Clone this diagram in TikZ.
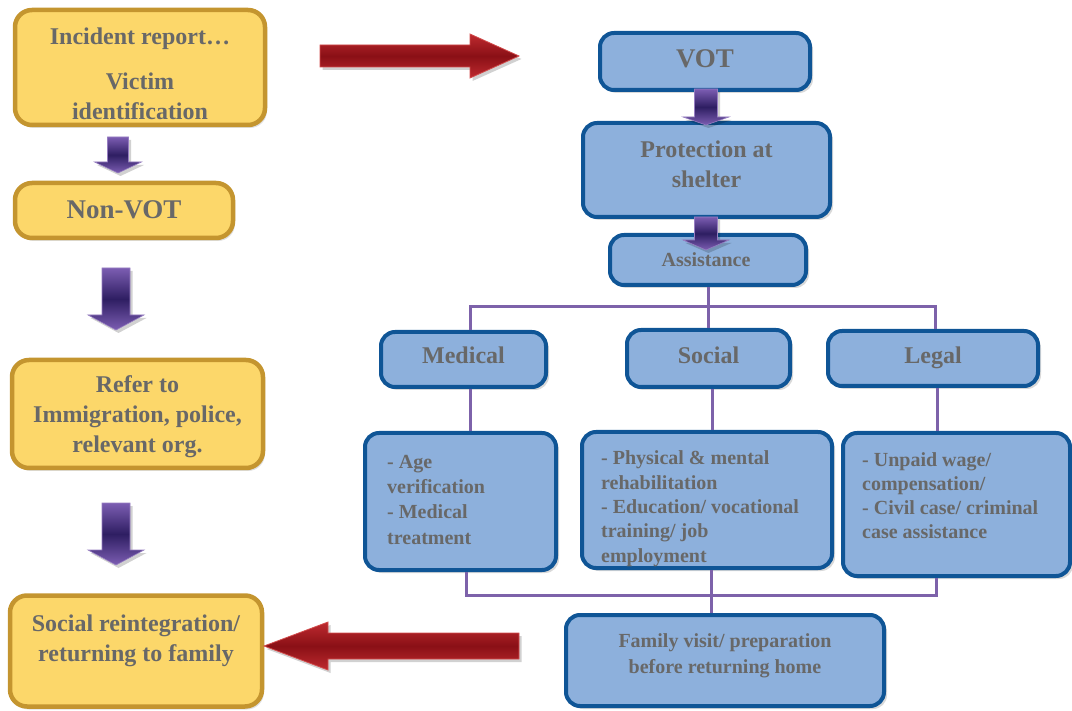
\documentclass[tikz,border=0pt]{standalone}
\usepackage{fontspec}
\setmainfont{Liberation Serif}
\usetikzlibrary{shadows,calc}
\definecolor{yfill}{HTML}{FCD76A}
\definecolor{ydraw}{HTML}{C4952F}
\definecolor{bfill}{HTML}{8DB0DC}
\definecolor{bdraw}{HTML}{0F5596}
\definecolor{tgray}{HTML}{686868}
\definecolor{pline}{HTML}{7D62AA}
\definecolor{plight}{HTML}{7C5DB2}
\definecolor{pdark}{HTML}{2E1E62}
\definecolor{rlight}{HTML}{BE2A2F}
\definecolor{rdark}{HTML}{8A1016}
\definecolor{redge}{HTML}{D24C4C}
\newcommand\fsz[2]{\fontsize{#1}{#2}\selectfont\bfseries}
% down arrow: cx, ytop, ybase, ytip, shaft half width, head half width
\newcommand\dnarrow[6]{%
  \path[parrow] ({#1-#5},#2) -- ({#1+#5},#2) -- ({#1+#5},#3) -- ({#1+#6},#3)
    -- (#1,#4) -- ({#1-#6},#3) -- ({#1-#5},#3) -- cycle;}
\begin{document}
\begin{tikzpicture}[x=1pt,y=-1pt,
  ybox/.style={draw=ydraw, fill=yfill, line width=4.5pt, rounded corners=17pt,
    drop shadow={opacity=0.25, shadow xshift=2pt, shadow yshift=-3pt}},
  bbox/.style={draw=bdraw, fill=bfill, line width=4pt, rounded corners=14pt,
    drop shadow={opacity=0.3, shadow xshift=3pt, shadow yshift=-3pt}},
  txt/.style={text=tgray, inner sep=0pt, align=center, anchor=base},
  txtl/.style={text=tgray, inner sep=0pt, align=left, anchor=base west},
  conn/.style={draw=pline, line width=3pt},
  ashadow/.style={preaction={fill=black, fill opacity=0.18, draw=none,
    transform canvas={shift={(2.5pt,-3pt)}}}},
  parrow/.style={ashadow, draw=plight!80!white, line width=0.6pt, shade, shading=axis,
    top color=plight, bottom color=plight, middle color=pdark},
  rarrow/.style={ashadow, draw=redge, line width=0.8pt, shade, shading=axis,
    top color=rlight, bottom color=rlight, middle color=rdark}
]
\useasboundingbox (0,0) rectangle (1072,711);

% ---------- yellow column ----------
\node[ybox, minimum width=250, minimum height=115] (inc) at (140,67.5) {};
\node[ybox, minimum width=218, minimum height=55] (nonvot) at (124,210.5) {};
\node[ybox, minimum width=251, minimum height=108] (refer) at (137.5,414) {};
\node[ybox, minimum width=252, minimum height=111] (soci) at (136,651) {};

% (multi-line nodes: the base anchor is the baseline of the last line)
\node[txt, font=\fsz{24}{29}] (inct1) at (140,45) {Incident report…};
\node[txt, font=\fsz{24}{30}] (inct2) at (140,120) {Victim\\identification};
\node[txt, font=\fsz{27}{30}] (nonvott) at (124,219) {Non-VOT};
\node[txt, font=\fsz{24}{30}] (refert) at (137.5,453) {Refer to\\Immigration, police,\\relevant org.};
\node[txt, font=\fsz{24}{30}] (socit) at (136,661) {Social reintegration/\\returning to family};

% ---------- blue column ----------
\node[bbox, minimum width=210, minimum height=57] (vot) at (705,61.5) {};
\node[bbox, minimum width=247, minimum height=94] (prot) at (706.5,170) {};
\node[bbox, minimum width=196, minimum height=50] (assist) at (708,260) {};
\node[bbox, minimum width=165, minimum height=55] (med) at (463.5,359.5) {};
\node[bbox, minimum width=163, minimum height=57] (soc) at (708.5,358.5) {};
\node[bbox, minimum width=210, minimum height=55] (leg) at (933,358.5) {};
\node[bbox, minimum width=191, minimum height=137] (medd) at (460.5,501.5) {};
\node[bbox, minimum width=250, minimum height=136] (socd) at (707,500) {};
\node[bbox, minimum width=227, minimum height=143] (legd) at (956.5,504.5) {};
\node[bbox, minimum width=318, minimum height=91] (fam) at (725,660.5) {};

\node[txt, font=\fsz{27}{30}] (vott) at (705,68) {VOT};
\node[txt, font=\fsz{24}{30}] (prott) at (706.5,188) {Protection at\\shelter};
\node[txt, font=\fsz{20}{24}] (assistt) at (706,267) {Assistance};
\node[txt, font=\fsz{24}{28}] (medt) at (463.5,364) {Medical};
\node[txt, font=\fsz{24}{28}] (soct) at (708.5,364) {Social};
\node[txt, font=\fsz{24}{28}] (legt) at (933,364) {Legal};
\node[txtl, font=\fsz{20}{25.3}] (meddt) at (387,544) {- Age\\verification\\- Medical\\treatment};
\node[txtl, font=\fsz{20}{24.3}] (socdt) at (601,562) {- Physical \& mental\\rehabilitation\\- Education/ vocational\\training/ job\\employment};
\node[txtl, font=\fsz{20}{24}] (legdt) at (862,538) {- Unpaid wage/\\compensation/\\- Civil case/ criminal\\case assistance};
\node[txt, font=\fsz{20}{26}] (famt) at (725,673) {Family visit/ preparation\\before returning home};

% ---------- connectors ----------
\coordinate (b1) at (470,307);
\coordinate (b3) at (935,307);
\coordinate (c1) at (466,595);
\coordinate (c3) at (936,595);
\draw[conn] (assist.south) -- (assist.south |- soc.north);
\draw[conn] (b1 |- med.north) -- (b1) -- (b3) -- (b3 |- leg.north);
\draw[conn] (b1 |- med.south) -- (b1 |- medd.north);
\draw[conn] ([xshift=3.5pt]soc.south) -- ([xshift=3.5pt]soc.south |- socd.north);
\draw[conn] ([xshift=2pt]b3 |- leg.south) -- ([xshift=2pt]b3 |- legd.north);
\draw[conn] (c1 |- medd.south) -- (c1) -- (c3) -- (c3 |- legd.south);
\draw[conn] ([xshift=4pt]socd.south) -- ([xshift=4pt]socd.south |- fam.north);

% ---------- block arrows ----------
\dnarrow{118}{137}{162}{173}{10.5}{23.5}
\dnarrow{116}{268}{315}{330}{14}{28}
\dnarrow{116}{503}{550}{565}{14}{28}
\dnarrow{706}{89}{117}{125}{11.5}{23}
\dnarrow{706}{217}{240}{250}{11.5}{23}

\path[rarrow] (320,45) -- (470,45) -- (470,34) -- (519,56) -- (470,78)
  -- (470,67) -- (320,67) -- cycle;
\path[rarrow] (519,633) -- (328,633) -- (328,622) -- (264,646) -- (328,670)
  -- (328,659) -- (519,659) -- cycle;
\end{tikzpicture}
\end{document}
